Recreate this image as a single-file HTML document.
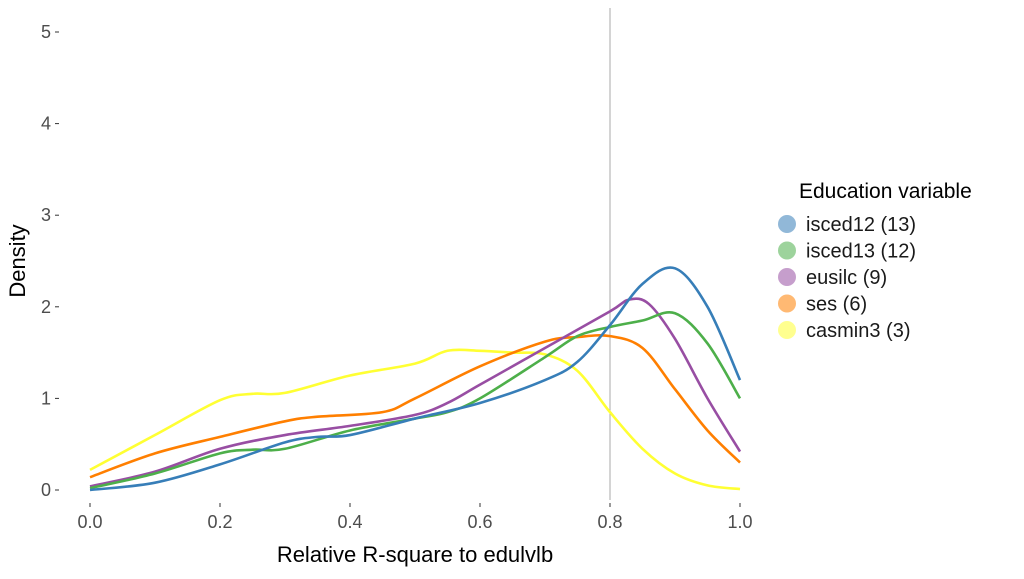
<!DOCTYPE html>
<html><head><meta charset="utf-8"><style>
body{margin:0;background:#fff;font-family:"Liberation Sans",sans-serif}
svg{display:block}
</style></head><body>
<svg id="chart" width="1024" height="579">
<g id="axes"></g><g id="lines"></g><g id="legend"></g>
</svg>
<script>
const xTicks=[0,0.2,0.4,0.6,0.8,1.0];
const xTickLabels=["0.0","0.2","0.4","0.6","0.8","1.0"];
const yTicks=[0,1,2,3,4,5];
const seriesNames=["isced12 (13)","isced13 (12)","eusilc (9)","ses (6)","casmin3 (3)"];
const seriesColors=["#377eb8","#4daf4a","#984ea3","#ff7f00","#ffff33"];
const isced12X=[0,0.1,0.2,0.3,0.35,0.4,0.5,0.6,0.7,0.75,0.8,0.85,0.9,0.95,1.0];
const isced12Y=[0,0.08,0.28,0.52,0.58,0.6,0.78,0.95,1.2,1.4,1.8,2.25,2.42,2.0,1.2];
const isced13X=[0,0.1,0.2,0.25,0.3,0.4,0.5,0.55,0.6,0.7,0.75,0.8,0.85,0.9,0.95,1.0];
const isced13Y=[0.02,0.18,0.4,0.44,0.45,0.65,0.78,0.85,1.0,1.45,1.68,1.78,1.85,1.93,1.6,1.0];
const eusilcX=[0,0.1,0.2,0.3,0.4,0.5,0.55,0.6,0.7,0.8,0.83,0.86,0.9,0.95,1.0];
const eusilcY=[0.04,0.2,0.45,0.6,0.7,0.82,0.95,1.15,1.55,1.95,2.08,2.03,1.65,1.0,0.42];
const sesX=[0,0.1,0.2,0.3,0.35,0.45,0.5,0.6,0.7,0.75,0.8,0.85,0.9,0.95,1.0];
const sesY=[0.14,0.4,0.58,0.75,0.8,0.85,1.0,1.35,1.62,1.67,1.68,1.55,1.1,0.65,0.3];
const casminX=[0,0.1,0.2,0.25,0.3,0.4,0.5,0.55,0.6,0.65,0.7,0.75,0.8,0.85,0.9,0.95,1.0];
const casminY=[0.22,0.6,0.98,1.05,1.06,1.25,1.38,1.52,1.52,1.5,1.48,1.3,0.85,0.45,0.18,0.05,0.01];
const refLine=0.8;

const NS="http://www.w3.org/2000/svg";
const sx=v=>90+v*650, sy=v=>490-v*91.6;
function mk(t,p,a){const e=document.createElementNS(NS,t);for(const k in a)e.setAttribute(k,a[k]);p.appendChild(e);return e;}
const axes=document.getElementById('axes'),lines=document.getElementById('lines'),leg=document.getElementById('legend');
xTicks.forEach((v,i)=>{
 const t=mk('line',axes,{x1:sx(v),x2:sx(v),y1:503,y2:507,stroke:'#333'});
 
 const l=mk('text',axes,{x:sx(v),y:528,'text-anchor':'middle','font-size':18,fill:'#4d4d4d'});
 l.textContent=xTickLabels[i];
 
});
yTicks.forEach(v=>{
 const t=mk('line',axes,{x1:55,x2:59,y1:sy(v),y2:sy(v),stroke:'#333'});
 
 const l=mk('text',axes,{x:51,y:sy(v)+6,'text-anchor':'end','font-size':18,fill:'#4d4d4d'});
 l.textContent=v;
 
});
const xt=mk('text',axes,{x:415,y:562,'text-anchor':'middle','font-size':22,fill:'#000'});
xt.textContent='Relative R-square to edulvlb';

const yt=mk('text',axes,{x:25,y:261,'text-anchor':'middle','font-size':22,fill:'#000',transform:'rotate(-90 25 261)'});
yt.textContent='Density';

const rl=mk('line',axes,{x1:sx(refLine),x2:sx(refLine),y1:8,y2:500,stroke:'#aaa','stroke-width':1});


function path(xs,ys){
 const p=xs.map((x,i)=>[sx(x),sy(ys[i])]);
 let d='M'+p[0][0]+','+p[0][1];
 for(let i=0;i<p.length-1;i++){
  const p0=p[Math.max(0,i-1)],p1=p[i],p2=p[i+1],p3=p[Math.min(p.length-1,i+2)];
  const c1=[p1[0]+(p2[0]-p0[0])/6,p1[1]+(p2[1]-p0[1])/6],c2=[p2[0]-(p3[0]-p1[0])/6,p2[1]-(p3[1]-p1[1])/6];
  d+=`C${c1[0]},${c1[1]} ${c2[0]},${c2[1]} ${p2[0]},${p2[1]}`;
 }
 return d;
}
const data=[[isced12X,isced12Y],[isced13X,isced13Y],[eusilcX,eusilcY],[sesX,sesY],[casminX,casminY]];
[4,3,2,1,0].forEach(i=>{
 const e=mk('path',lines,{d:path(data[i][0],data[i][1]),fill:'none',stroke:seriesColors[i],'stroke-width':2.6});
 
 
});
const lt=mk('text',leg,{x:799,y:198,'font-size':21,fill:'#000'});
lt.textContent='Education variable';

seriesNames.forEach((n,i)=>{
 const y=224+i*26.5;
 const c=mk('circle',leg,{cx:787,cy:y,r:9,fill:seriesColors[i],opacity:0.55});
 
 const t=mk('text',leg,{x:806,y:y+7,'font-size':20,fill:'#1a1a1a'});
 t.textContent=n;
 
});
</script>
</body></html>
